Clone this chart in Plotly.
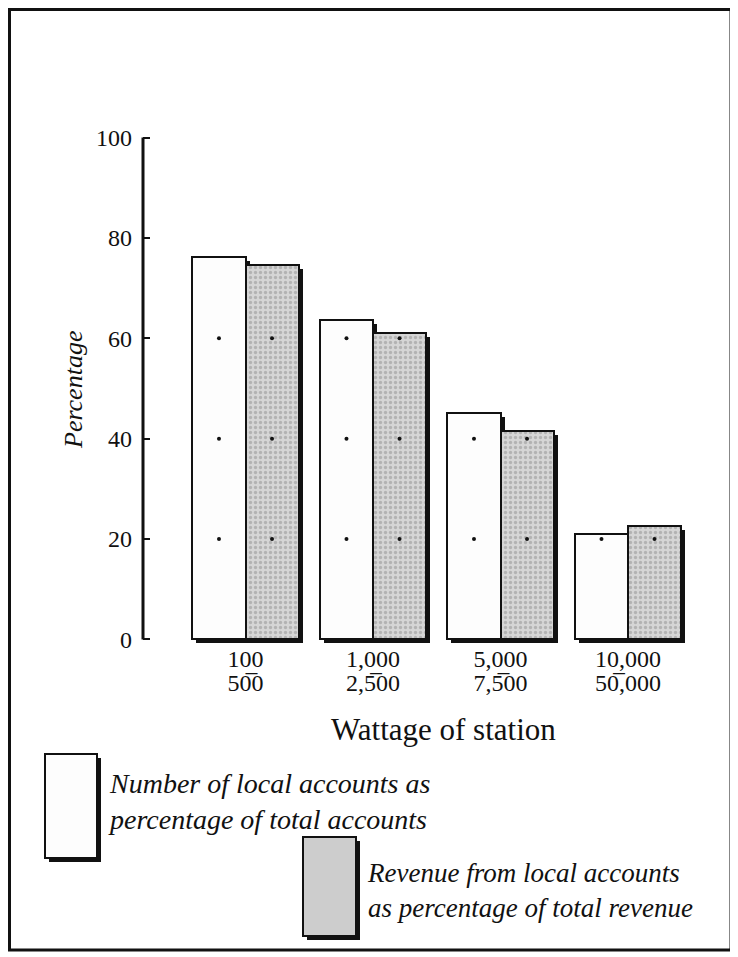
import plotly.graph_objects as go

# ---------------- data ----------------
wattage_low = ["100", "1,000", "5,000", "10,000"]
wattage_high = ["50\u03050", "2,5\u030500", "7,5\u030500", "50\u0305,000"]
local_accounts_pct = [76.1, 63.6, 45.1, 21.1]
local_revenue_pct = [74.6, 61.0, 41.6, 22.7]
y_ticks = [0, 20, 40, 60, 80, 100]
y_tick_labels = ["0", "20", "40", "60", "80", "100"]
guide_levels = [20, 40, 60]
series_names = [
    "Number of local accounts as<br>percentage of total accounts",
    "Revenue from local accounts<br>as percentage of total revenue",
]

# ---------------- geometry (page pixels of the 738x957 window) ----------------
PAGE_OFF = 8                      # browser body margin
FW, FH = 738 - PAGE_OFF, 957 - PAGE_OFF
PLOT_L, PLOT_R, PLOT_T, PLOT_B = 143, 698, 135, 647   # page pixels
ML = PLOT_L - PAGE_OFF
MT = PLOT_T - PAGE_OFF
MR = FW - (PLOT_R - PAGE_OFF)
MB = FH - (PLOT_B - PAGE_OFF)
PW, PH = PLOT_R - PLOT_L, PLOT_B - PLOT_T
X_RANGE_LO = -0.804
PX_PER_X = 127.5
X_RANGE = [X_RANGE_LO, X_RANGE_LO + PW / PX_PER_X]
Y_RANGE = [-1.5, 100.5]
PX_PER_Y = PH / (Y_RANGE[1] - Y_RANGE[0])

BAR_W = 0.416
SHADOW_DX = 4 / PX_PER_X
SHADOW_DY = 4 / PX_PER_Y

SERIF = "Liberation Serif, Times New Roman, serif"
INK = "#111111"
GRAY = "#cdcdcd"


def px_x(px):
    return (px - PLOT_L) / PW


def px_y(py):
    return (PLOT_B - py) / PH


xs = list(range(len(wattage_low)))
fig = go.Figure()

# drop shadows
for vals, off in [(local_accounts_pct, -BAR_W), (local_revenue_pct, 0.0)]:
    fig.add_trace(go.Bar(
        x=xs, y=vals, base=[-SHADOW_DY] * len(vals), width=BAR_W,
        offset=off + SHADOW_DX, marker=dict(color=INK, line=dict(width=0)),
        showlegend=False, hoverinfo="skip"))

# white bars
fig.add_trace(go.Bar(
    x=xs, y=local_accounts_pct, width=BAR_W, offset=-BAR_W,
    name=series_names[0],
    marker=dict(color="#fdfdfd", line=dict(color=INK, width=2)),
    showlegend=False))

# shaded bars
fig.add_trace(go.Bar(
    x=xs, y=local_revenue_pct, width=BAR_W, offset=0.0,
    name=series_names[1],
    marker=dict(color=GRAY, line=dict(color=INK, width=2),
                pattern=dict(shape=".", fgcolor="#8f8f8f", bgcolor="#d6d6d6",
                             size=5, solidity=0.35)),
    showlegend=False))

# guide dots inside the bars (drawn on the overlaid second x axis)
dx, dy = [], []
for i in xs:
    for vals, off in [(local_accounts_pct, -BAR_W / 2), (local_revenue_pct, BAR_W / 2)]:
        for g in guide_levels:
            if vals[i] > g:
                dx.append(i + off)
                dy.append(g)
fig.add_trace(go.Scatter(x=dx, y=dy, mode="markers", xaxis="x2", yaxis="y",
                         marker=dict(color=INK, size=4),
                         showlegend=False, hoverinfo="skip"))

shapes = []
# y axis line
shapes.append(dict(type="line", xref="paper", yref="y", x0=0, x1=0, y0=0, y1=100,
                   line=dict(color=INK, width=3), layer="above"))
# frame
shapes.append(dict(type="rect", xref="paper", yref="paper",
                   x0=px_x(9.5), x1=px_x(731), y0=px_y(950), y1=px_y(9.5),
                   line=dict(color=INK, width=3)))
# legend swatches with shadows
for (x0, x1, y0, y1, fill) in [(45, 97, 754, 858, "#fdfdfd"), (303, 356, 837, 936, GRAY)]:
    shapes.append(dict(type="rect", xref="paper", yref="paper",
                       x0=px_x(x0 + 4), x1=px_x(x1 + 4), y0=px_y(y1 + 4), y1=px_y(y0 + 4),
                       fillcolor=INK, line=dict(width=0)))
    shapes.append(dict(type="rect", xref="paper", yref="paper",
                       x0=px_x(x0), x1=px_x(x1), y0=px_y(y1), y1=px_y(y0),
                       fillcolor=fill, line=dict(color=INK, width=2)))

annotations = [
    dict(text="<i>Percentage</i>", xref="paper", yref="paper", x=px_x(73), y=px_y(390),
         xanchor="center", yanchor="middle",
         textangle=-90, showarrow=False, font=dict(family=SERIF, size=26, color=INK)),
    dict(text="Wattage of station", xref="paper", yref="paper", x=px_x(443), y=px_y(729),
         xanchor="center", yanchor="middle",
         showarrow=False, font=dict(family=SERIF, size=31, color=INK)),
    dict(text="<i>" + series_names[0] + "</i>", xref="paper", yref="paper",
         x=px_x(106), y=px_y(801), xanchor="left", yanchor="middle", align="left",
         showarrow=False, font=dict(family=SERIF, size=28, color=INK)),
    dict(text="<i>" + series_names[1] + "</i>", xref="paper", yref="paper",
         x=px_x(365), y=px_y(890), xanchor="left", yanchor="middle", align="left",
         showarrow=False, font=dict(family=SERIF, size=27, color=INK)),
]

fig.update_layout(
    width=FW, height=FH,
    margin=dict(l=ML, r=MR, t=MT, b=MB, pad=0),
    paper_bgcolor="white", plot_bgcolor="white",
    barmode="overlay", bargap=0,
    showlegend=False,
    shapes=shapes, annotations=annotations,
    xaxis=dict(range=X_RANGE, tickvals=xs, ticktext=wattage_low, showgrid=False,
               zeroline=False, showline=False, ticks="", ticklabelstandoff=-5,
               tickfont=dict(family=SERIF, size=24, color=INK)),
    xaxis2=dict(range=X_RANGE, matches="x", overlaying="x", anchor="y", side="bottom",
                tickvals=xs, ticktext=wattage_high, showgrid=False,
                zeroline=False, showline=False, ticks="", ticklabelstandoff=19,
                tickfont=dict(family=SERIF, size=24, color=INK)),
    yaxis=dict(range=Y_RANGE, tickvals=y_ticks, ticktext=y_tick_labels, showgrid=False,
               zeroline=False, showline=False, ticks="inside", ticklen=7, tickwidth=2,
               tickcolor=INK, ticklabelstandoff=10,
               tickfont=dict(family=SERIF, size=24, color=INK)),
)

fig.write_html("out.html")
